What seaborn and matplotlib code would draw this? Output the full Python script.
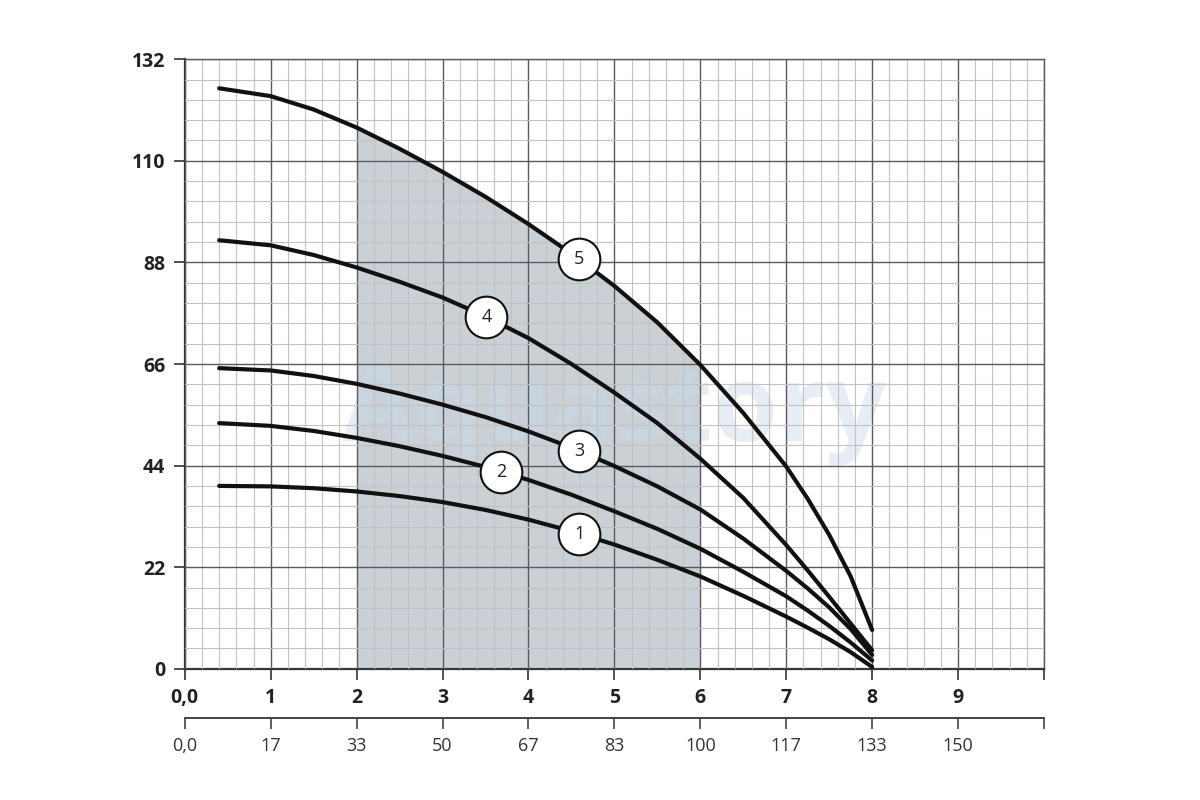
import numpy as np
import pandas as pd
import seaborn as sns
import matplotlib.pyplot as plt
from matplotlib.ticker import MultipleLocator

# flow (m3/h) and head (m)
flow = [0.4, 1, 1.5, 2, 2.5, 3, 3.5, 4, 4.5, 5, 5.5, 6, 6.5, 7, 7.25, 7.5, 7.75, 8]
head_1 = [39.6, 39.5, 39.1, 38.4, 37.4, 36.1, 34.4, 32.3, 29.8, 26.9, 23.6, 20.0, 15.8, 11.3, 8.9, 6.4, 3.6, 0.4]
head_2 = [53.2, 52.6, 51.5, 50.0, 48.2, 46.1, 43.7, 40.9, 37.7, 34.1, 30.3, 26.0, 21.0, 15.7, 12.6, 9.3, 5.7, 1.8]
head_3 = [65.1, 64.6, 63.4, 61.7, 59.6, 57.2, 54.5, 51.4, 47.9, 43.9, 39.5, 34.5, 28.2, 21.2, 17.4, 13.3, 8.6, 3.0]
head_4 = [92.8, 91.7, 89.6, 86.9, 83.8, 80.4, 76.3, 71.6, 66.0, 59.8, 53.2, 45.5, 37.0, 26.8, 21.3, 15.6, 9.8, 4.0]
head_5 = [125.7, 124.0, 121.1, 117.2, 112.6, 107.6, 102.2, 96.3, 89.9, 82.9, 75.0, 65.8, 55.4, 43.8, 36.8, 29.0, 20.0, 8.4]
curve_names = ["1", "2", "3", "4", "5"]
label_x = [4.59, 3.68, 4.59, 3.51, 4.59]

# working range (shaded)
work_lo, work_hi = 2, 6

x_labels = ["0,0", "1", "2", "3", "4", "5", "6", "7", "8", "9"]
lpm_labels = ["0,0", "17", "33", "50", "67", "83", "100", "117", "133", "150"]
y_ticks = [0, 22, 44, 66, 88, 110, 132]

heads = [head_1, head_2, head_3, head_4, head_5]
df = pd.concat([pd.DataFrame({"flow": flow, "head": h, "curve": n})
                for h, n in zip(heads, curve_names)])

sns.set_style("white")
plt.rcParams['font.family'] = ['Open Sans', 'DejaVu Sans']

fig = plt.figure(figsize=(12, 8), dpi=100)
ax = fig.add_axes([0.154, 0.164, 0.716, 0.762])

# shaded working area under the top curve
fl = np.array(flow)
m = (fl >= work_lo) & (fl <= work_hi)
ax.fill_between(fl[m], 0, np.array(head_5)[m], color="#c9d1d6", zorder=0, lw=0)

# watermark
ax.text(0.5, 0.42, "Aquastory", transform=ax.transAxes, ha="center", va="center",
        fontsize=76, fontweight="bold", color="#c8d8e8", alpha=0.45, zorder=1)

sns.lineplot(data=df, x="flow", y="head", units="curve", estimator=None,
             color="#111111", lw=3.0, ax=ax, zorder=4, sort=False,
             solid_joinstyle="round", solid_capstyle="round")

for name, h, lx in zip(curve_names, heads, label_x):
    ly = np.interp(lx, flow, h)
    ax.scatter([lx], [ly], s=900, facecolor="white", edgecolor="#111111",
               linewidth=1.5, zorder=5)
    ax.text(lx, ly, name, ha="center", va="center", fontsize=13, color="#222222",
            zorder=6)

ax.set_xlim(0, 10)
ax.set_ylim(0, 132)
ax.xaxis.set_minor_locator(MultipleLocator(0.2))
ax.yaxis.set_minor_locator(MultipleLocator(4.4))
ax.grid(which="major", color="#5a5a5a", lw=1.0, zorder=2)
ax.grid(which="minor", color="#c2c2c2", lw=0.8, zorder=2)
ax.set_axisbelow(False)

ax.set_xticks(list(range(11)))
ax.set_xticklabels(x_labels + [""])
ax.set_yticks(y_ticks)
ax.set_yticklabels([str(v) for v in y_ticks])
for lab in ax.get_xticklabels() + ax.get_yticklabels():
    lab.set_fontweight("bold")
    lab.set_fontsize(14)
    lab.set_color("#222222")
ax.tick_params(axis="both", which="major", direction="out", length=8, width=1.2,
               color="#333333", pad=6, bottom=True, left=True)
ax.tick_params(axis="both", which="minor", length=0)
ax.set_xlabel("")
ax.set_ylabel("")

for side in ["left", "bottom"]:
    ax.spines[side].set_color("#333333")
    ax.spines[side].set_linewidth(1.6)
for side in ["top", "right"]:
    ax.spines[side].set_color("#5a5a5a")
    ax.spines[side].set_linewidth(1.0)

# second flow scale (l/min)
sec = ax.secondary_xaxis(-0.08)
sec.set_xticks(list(range(11)))
sec.set_xticklabels(lpm_labels + [""])
sec.spines["bottom"].set_color("#444444")
sec.spines["bottom"].set_linewidth(1.4)
sec.tick_params(direction="out", length=8, width=1.2, color="#444444", pad=6,
                labelsize=13, labelcolor="#333333")

fig.savefig("out.png", dpi=100, facecolor="white")
